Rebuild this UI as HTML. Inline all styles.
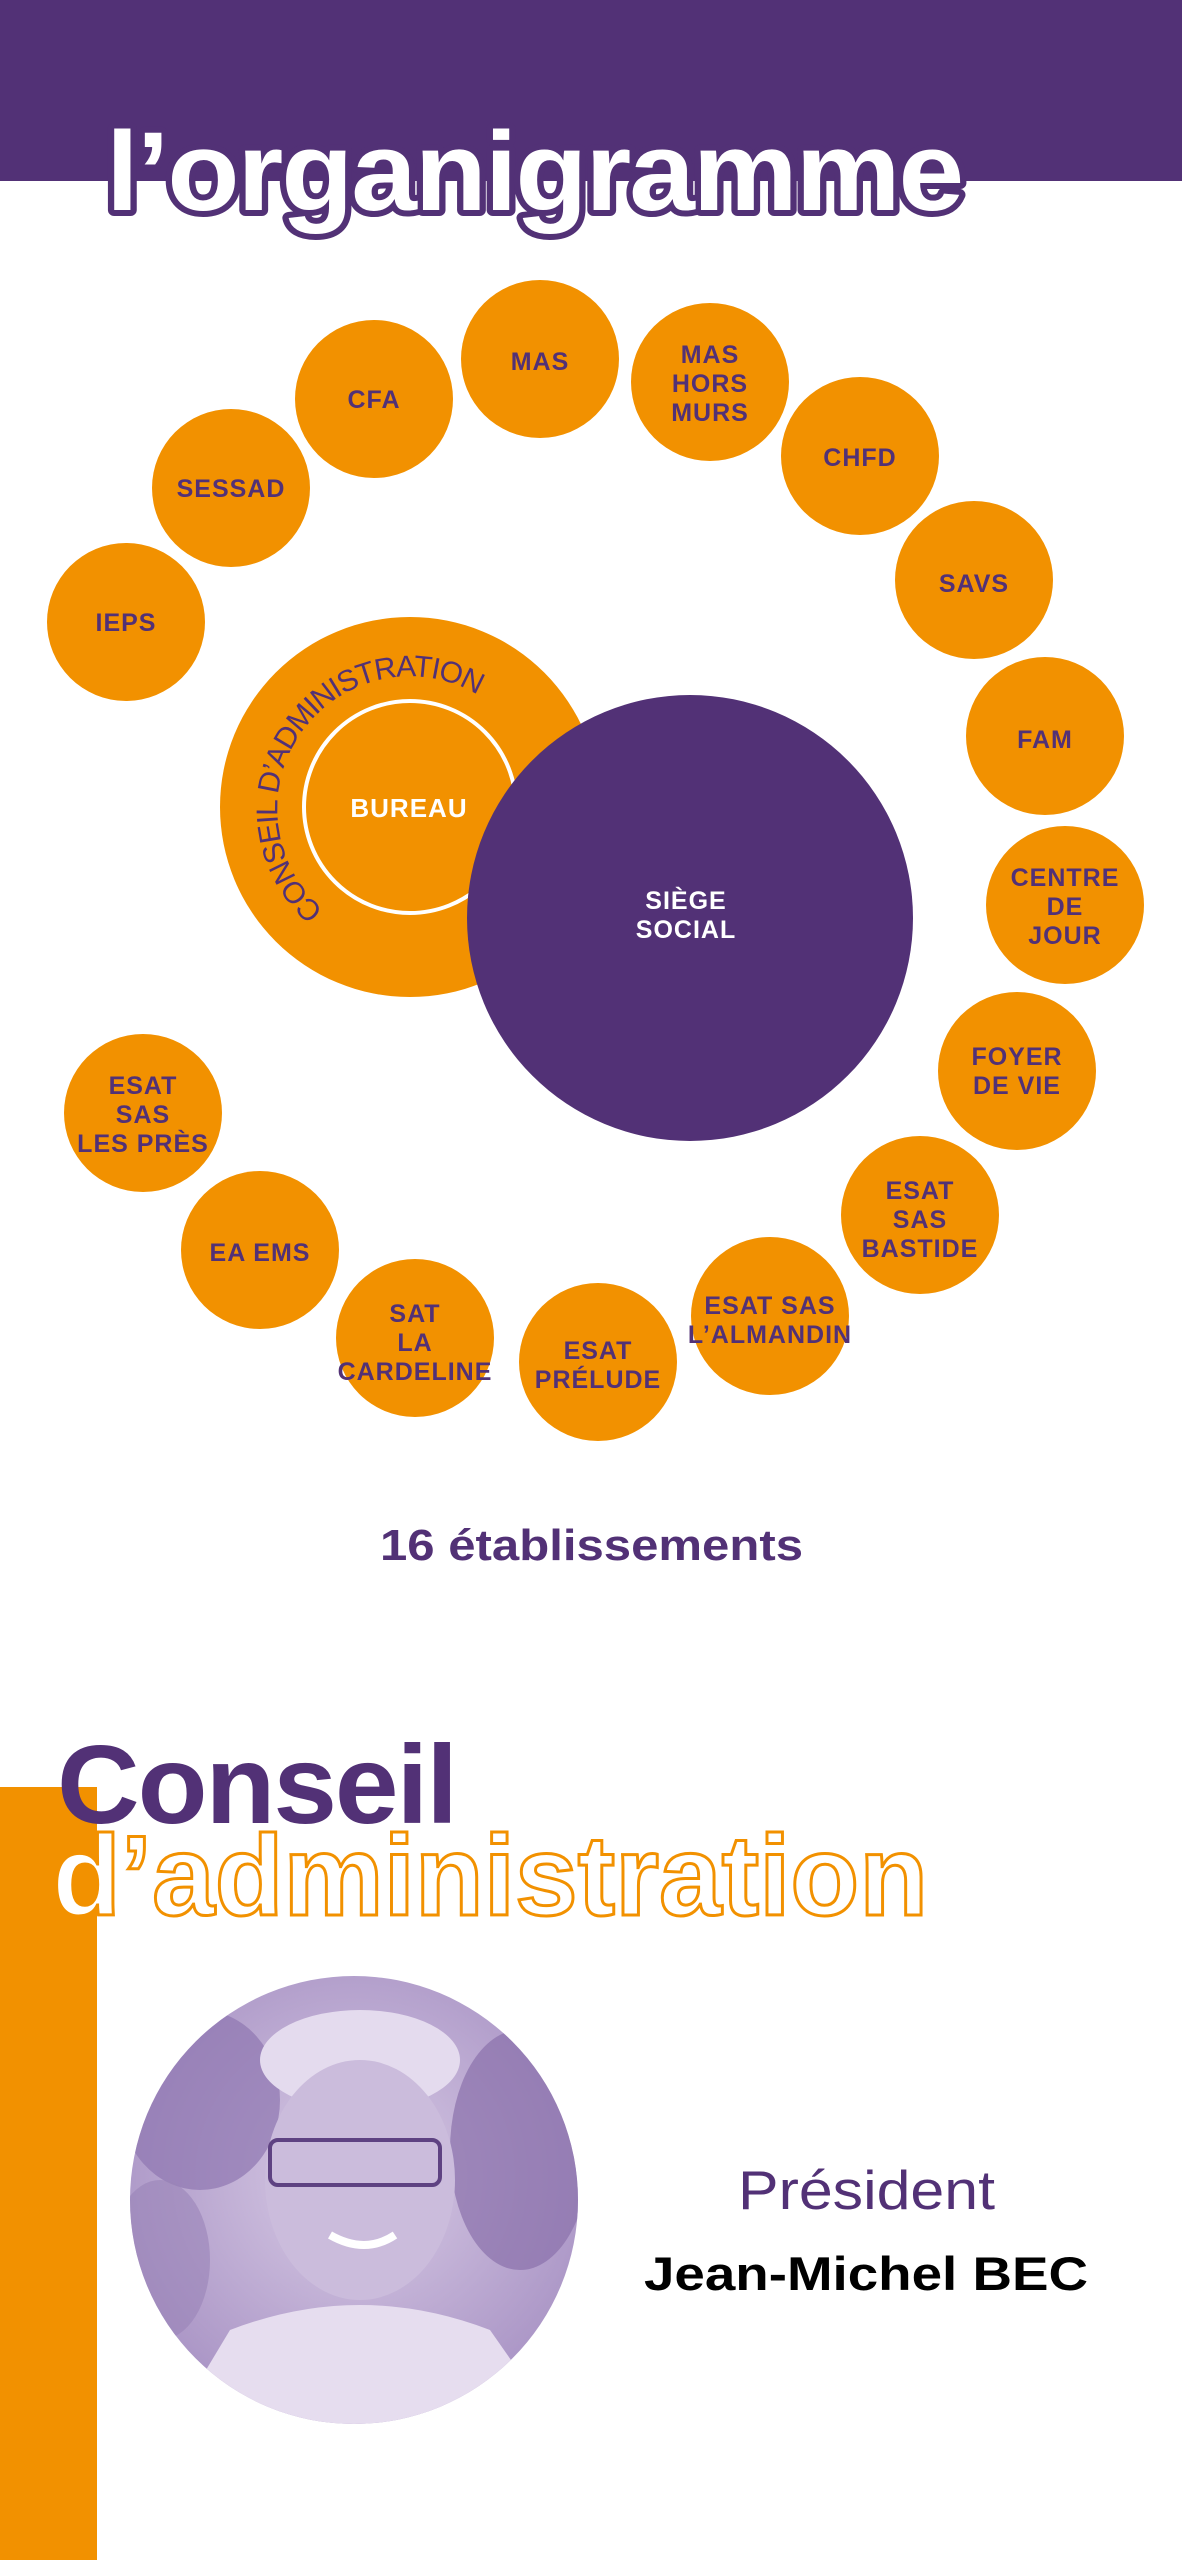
<!DOCTYPE html>
<html><head><meta charset="utf-8"><style>
html,body{margin:0;padding:0;background:#fff;}
svg{display:block;}
</style></head><body>
<svg width="1182" height="2560" viewBox="0 0 1182 2560" xmlns="http://www.w3.org/2000/svg" font-family="Liberation Sans, Arial, sans-serif">
<defs>
<clipPath id="ph"><circle cx="354" cy="2200" r="224"/></clipPath>
<radialGradient id="pg" cx="0.5" cy="0.45" r="0.6">
<stop offset="0" stop-color="#d9cce6"/><stop offset="1" stop-color="#a58fc2"/>
</radialGradient>
</defs>
<rect x="0" y="0" width="1182" height="181" fill="#523176"/>
<text x="106" y="210" font-size="112" font-weight="bold" fill="#fff" stroke="#523176" stroke-width="12" stroke-linejoin="round" paint-order="stroke" textLength="856" lengthAdjust="spacingAndGlyphs" letter-spacing="-2">l’organigramme</text>

<g fill="#f29100">
<circle cx="126" cy="622" r="79"/><circle cx="231" cy="488" r="79"/><circle cx="374" cy="399" r="79"/>
<circle cx="540" cy="359" r="79"/><circle cx="710" cy="382" r="79"/><circle cx="860" cy="456" r="79"/>
<circle cx="974" cy="580" r="79"/><circle cx="1045" cy="736" r="79"/><circle cx="1065" cy="905" r="79"/>
<circle cx="1017" cy="1071" r="79"/><circle cx="920" cy="1215" r="79"/><circle cx="770" cy="1316" r="79"/>
<circle cx="598" cy="1362" r="79"/><circle cx="415" cy="1338" r="79"/><circle cx="260" cy="1250" r="79"/>
<circle cx="143" cy="1113" r="79"/>
<circle cx="410" cy="807" r="190"/>
</g>
<circle cx="410" cy="807" r="106" fill="none" stroke="#fff" stroke-width="4"/>
<path id="arc" d="M 324 910 A 126 126 0 0 1 496 708" fill="none"/>
<text font-size="30" fill="#523176" letter-spacing="1"><textPath href="#arc" textLength="395" lengthAdjust="spacing">CONSEIL D’ADMINISTRATION</textPath></text>
<text x="409" y="817" font-size="26" font-weight="bold" fill="#fff" text-anchor="middle" letter-spacing="1">BUREAU</text>

<circle cx="690" cy="918" r="223" fill="#523176"/>
<g font-size="25" font-weight="bold" fill="#fff" text-anchor="middle" letter-spacing="1">
<text x="686" y="909">SIÈGE</text><text x="686" y="938">SOCIAL</text>
</g>

<g font-size="25" font-weight="bold" fill="#523176" text-anchor="middle" letter-spacing="1">
<text x="126" y="631">IEPS</text>
<text x="231" y="497">SESSAD</text>
<text x="374" y="408">CFA</text>
<text x="540" y="370">MAS</text>
<text x="710" y="363">MAS</text><text x="710" y="392">HORS</text><text x="710" y="421">MURS</text>
<text x="860" y="466">CHFD</text>
<text x="974" y="592">SAVS</text>
<text x="1045" y="748">FAM</text>
<text x="1065" y="886">CENTRE</text><text x="1065" y="915">DE</text><text x="1065" y="944">JOUR</text>
<text x="1017" y="1065">FOYER</text><text x="1017" y="1094">DE VIE</text>
<text x="920" y="1199">ESAT</text><text x="920" y="1228">SAS</text><text x="920" y="1257">BASTIDE</text>
<text x="770" y="1314">ESAT SAS</text><text x="770" y="1343">L’ALMANDIN</text>
<text x="598" y="1359">ESAT</text><text x="598" y="1388">PRÉLUDE</text>
<text x="415" y="1322">SAT</text><text x="415" y="1351">LA</text><text x="415" y="1380">CARDELINE</text>
<text x="260" y="1261">EA EMS</text>
<text x="143" y="1094">ESAT</text><text x="143" y="1123">SAS</text><text x="143" y="1152">LES PRÈS</text>
</g>

<text x="380" y="1560" font-size="44" font-weight="bold" fill="#523176" textLength="423" lengthAdjust="spacingAndGlyphs">16 établissements</text>

<rect x="0" y="1787" width="97" height="773" fill="#f29100"/>
<text x="57" y="1823" font-size="111" font-weight="bold" fill="#523176" textLength="399" lengthAdjust="spacingAndGlyphs" letter-spacing="-2">Conseil</text>
<text x="52" y="1915" font-size="114" font-weight="bold" fill="#fff" stroke="#f29100" stroke-width="3" textLength="876" lengthAdjust="spacingAndGlyphs">d’administration</text>

<g clip-path="url(#ph)">
<rect x="120" y="1970" width="470" height="460" fill="url(#pg)"/>
<ellipse cx="200" cy="2100" rx="80" ry="90" fill="#8f76b0" opacity="0.7"/>
<ellipse cx="520" cy="2150" rx="70" ry="120" fill="#8a70ab" opacity="0.7"/>
<ellipse cx="160" cy="2260" rx="50" ry="80" fill="#9a83b8" opacity="0.6"/>
<ellipse cx="360" cy="2060" rx="100" ry="50" fill="#e4dbee"/>
<ellipse cx="360" cy="2180" rx="95" ry="120" fill="#cbbcdc"/>
<path d="M 170 2430 L 230 2330 Q 360 2280 490 2330 L 560 2430 Z" fill="#e6ddef"/>
<rect x="270" y="2140" width="170" height="45" rx="8" fill="none" stroke="#5e4282" stroke-width="4"/>
<path d="M 330 2235 Q 365 2255 395 2235" fill="none" stroke="#fff" stroke-width="8"/>
</g>

<text x="738" y="2209" font-size="55" fill="#523176" textLength="257" lengthAdjust="spacingAndGlyphs">Président</text>
<text x="644" y="2290" font-size="47" font-weight="bold" fill="#000" textLength="444" lengthAdjust="spacingAndGlyphs">Jean-Michel BEC</text>
</svg>
</body></html>
